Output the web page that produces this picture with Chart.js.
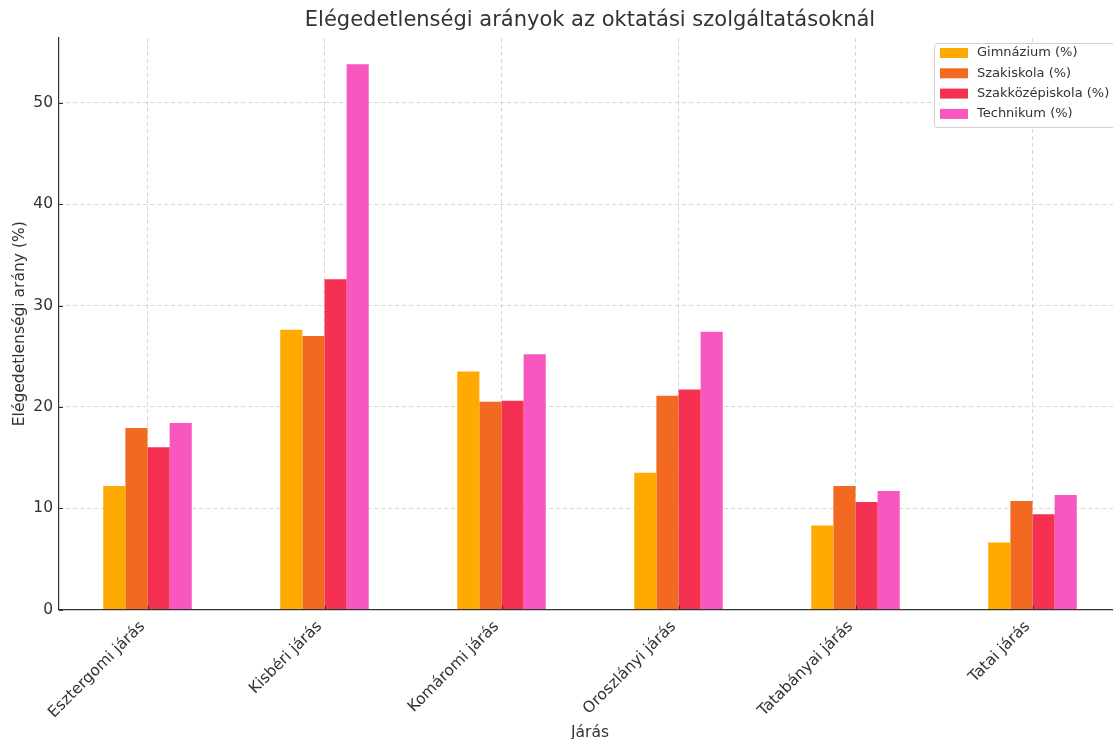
<!DOCTYPE html>
<html>
<head>
<meta charset="utf-8">
<script src="https://cdn.jsdelivr.net/npm/chart.js@4"></script>
<style>
html,body{margin:0;padding:0;overflow:hidden;background:#fff;}
#wrap{width:1113px;height:739px;overflow:hidden;}
</style>
</head>
<body>
<div id="wrap"><canvas id="chart" width="1125" height="750"></canvas></div>
<script>
const districts = ["Esztergomi járás","Kisbéri járás","Komáromi járás","Oroszlányi járás","Tatabányai járás","Tatai járás"];
const gimnazium = [12.2, 27.6, 23.5, 13.5, 8.3, 6.6];
const szakiskola = [17.9, 27.0, 20.5, 21.1, 12.2, 10.7];
const szakkozep = [16.0, 32.6, 20.6, 21.7, 10.6, 9.4];
const technikum = [18.4, 53.8, 25.2, 27.4, 11.7, 11.3];
const yTicks = [0, 10, 20, 30, 40, 50];

Chart.defaults.font.family = "'DejaVu Sans', sans-serif";
Chart.defaults.color = "#333";

// legend box drawn inside the plot, top right
const boxLegend = {
    id: "boxLegend",
    afterDraw(chart){
        const c = chart.ctx, a = chart.chartArea;
        const x = a.right - 187, y = a.top + 5, w = 182, h = 84;
        c.save();
        c.fillStyle = "rgba(255,255,255,0.85)";
        c.strokeStyle = "#d0d0d0";
        c.lineWidth = 1;
        c.beginPath();
        c.roundRect(x + 0.5, y + 0.5, w, h, 3);
        c.fill();
        c.stroke();
        c.font = "13px 'DejaVu Sans'";
        c.textBaseline = "middle";
        chart.data.datasets.forEach((ds, i) => {
            const ly = y + 10 + i * 20.3;
            c.fillStyle = ds.backgroundColor;
            c.fillRect(x + 6, ly - 5, 28, 10);
            c.fillStyle = "#333";
            c.fillText(ds.label, x + 43, ly);
        });
        c.restore();
    }
};

// short tick marks pointing into the plot
const innerTicks = {
    id: "innerTicks",
    afterDatasetsDraw(chart){
        const c = chart.ctx, a = chart.chartArea;
        const xs = chart.scales.x, ys = chart.scales.y;
        c.save();
        c.strokeStyle = "#333";
        c.lineWidth = 1;
        c.beginPath();
        xs.ticks.forEach((t, i) => {
            const px = Math.round(xs.getPixelForTick(i)) + 0.5;
            c.moveTo(px, a.bottom);
            c.lineTo(px, a.bottom - 4);
        });
        ys.ticks.forEach((t, i) => {
            const py = Math.round(ys.getPixelForTick(i)) + 0.5;
            c.moveTo(a.left, py);
            c.lineTo(a.left + 4, py);
        });
        c.stroke();
        c.restore();
    }
};

new Chart(document.getElementById("chart"), {
    type: "bar",
    data: {
        labels: districts,
        datasets: [
            {label: "Gimnázium (%)", data: gimnazium, backgroundColor: "#FFAA00"},
            {label: "Szakiskola (%)", data: szakiskola, backgroundColor: "#F26A22"},
            {label: "Szakközépiskola (%)", data: szakkozep, backgroundColor: "#F53152"},
            {label: "Technikum (%)", data: technikum, backgroundColor: "#F857C0"}
        ]
    },
    options: {
        responsive: false,
        animation: false,
        layout: {padding: {right: 4}},
        datasets: {bar: {categoryPercentage: 0.5, barPercentage: 1.0}},
        plugins: {
            legend: {display: false},
            tooltip: {enabled: false},
            title: {
                display: true,
                fullSize: false,
                text: "Elégedetlenségi arányok az oktatási szolgáltatásoknál",
                font: {size: 21, weight: "normal"},
                color: "#333",
                padding: {top: 8.4, bottom: 4.4}
            }
        },
        scales: {
            x: {
                grid: {offset: false, color: "#d6d6d6", drawTicks: false},
                border: {color: "#333", width: 1.2, dash: [4, 3]},
                ticks: {minRotation: 45, maxRotation: 45, font: {size: 15.5}, color: "#333", padding: 8, labelOffset: -5},
                title: {display: true, text: "Járás", font: {size: 15.5}, color: "#333", padding: {top: 0, bottom: 8}},
                afterFit(s){ s.height = 140.5; }
            },
            y: {
                min: 0,
                max: 56.4,
                grid: {color: "#d6d6d6", drawTicks: false},
                border: {color: "#333", width: 1.2, dash: [4, 3]},
                ticks: {
                    stepSize: 10,
                    includeBounds: false,
                    font: {size: 15.5},
                    color: "#333",
                    padding: 6,
                    callback: v => yTicks.includes(v) ? v : ""
                },
                title: {display: true, text: "Elégedetlenségi arány (%)", font: {size: 15.5}, color: "#333", padding: {top: 11, bottom: 0}},
                afterFit(s){ s.width = 59; }
            }
        }
    },
    plugins: [boxLegend, innerTicks]
});
</script>
</body>
</html>
